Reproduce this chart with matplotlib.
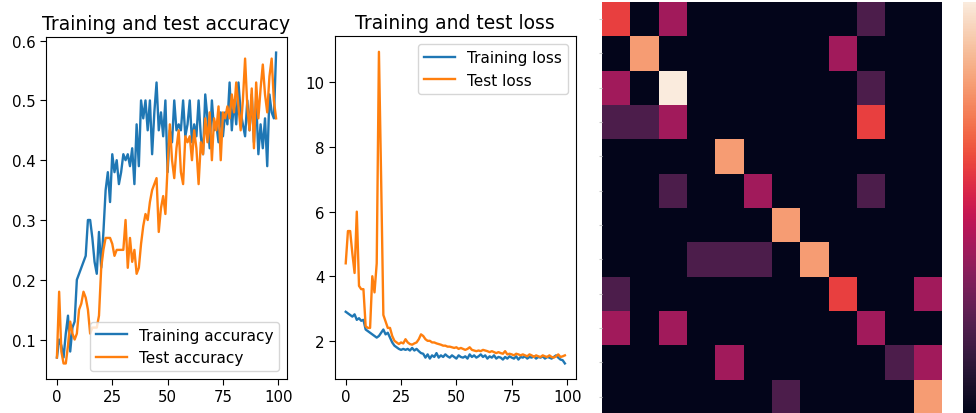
import matplotlib
matplotlib.use("Agg")
import matplotlib.pyplot as plt
import numpy as np
import seaborn as sns

epochs = np.arange(100)

train_acc = [0.07, 0.10, 0.09, 0.07, 0.11, 0.14, 0.08, 0.12, 0.13, 0.20,
             0.21, 0.22, 0.23, 0.24, 0.30, 0.30, 0.27, 0.23, 0.21, 0.28,
             0.22, 0.28, 0.35, 0.38, 0.33, 0.41, 0.38, 0.40, 0.36, 0.38,
             0.41, 0.40, 0.41, 0.39, 0.42, 0.36, 0.46, 0.39, 0.50, 0.47,
             0.50, 0.45, 0.50, 0.41, 0.48, 0.53, 0.45, 0.48, 0.44, 0.50,
             0.38, 0.45, 0.43, 0.50, 0.45, 0.46, 0.45, 0.50, 0.44, 0.46,
             0.50, 0.43, 0.46, 0.44, 0.50, 0.44, 0.41, 0.51, 0.47, 0.42,
             0.50, 0.45, 0.46, 0.43, 0.48, 0.44, 0.48, 0.46, 0.53, 0.45,
             0.50, 0.46, 0.53, 0.48, 0.46, 0.44, 0.50, 0.45, 0.51, 0.43,
             0.50, 0.41, 0.46, 0.42, 0.47, 0.39, 0.51, 0.48, 0.47, 0.58]

test_acc = [0.07, 0.18, 0.08, 0.06, 0.06, 0.09, 0.13, 0.11, 0.10, 0.11,
            0.15, 0.16, 0.18, 0.17, 0.15, 0.11, 0.12, 0.12, 0.12, 0.14,
            0.22, 0.25, 0.27, 0.27, 0.27, 0.26, 0.24, 0.25, 0.25, 0.25,
            0.25, 0.30, 0.22, 0.27, 0.23, 0.25, 0.21, 0.22, 0.26, 0.29,
            0.31, 0.30, 0.33, 0.35, 0.36, 0.37, 0.28, 0.32, 0.34, 0.31,
            0.39, 0.46, 0.40, 0.37, 0.42, 0.45, 0.38, 0.36, 0.44, 0.43,
            0.44, 0.40, 0.45, 0.42, 0.36, 0.43, 0.41, 0.47, 0.43, 0.48,
            0.40, 0.47, 0.45, 0.49, 0.40, 0.48, 0.47, 0.49, 0.47, 0.51,
            0.48, 0.53, 0.49, 0.45, 0.50, 0.57, 0.49, 0.45, 0.52, 0.42,
            0.53, 0.47, 0.52, 0.56, 0.51, 0.48, 0.54, 0.57, 0.50, 0.47]

train_loss = [2.90, 2.85, 2.80, 2.75, 2.82, 2.65, 2.70, 2.62, 2.65, 2.35,
              2.30, 2.25, 2.20, 2.15, 2.10, 2.15, 2.25, 2.35, 2.20, 2.25,
              2.10, 1.95, 1.85, 1.80, 1.75, 1.72, 1.75, 1.72, 1.75, 1.70,
              1.78, 1.70, 1.75, 1.68, 1.62, 1.60, 1.48, 1.58, 1.45, 1.55,
              1.50, 1.62, 1.48, 1.55, 1.50, 1.58, 1.52, 1.48, 1.55, 1.50,
              1.45, 1.55, 1.50, 1.48, 1.52, 1.45, 1.58, 1.50, 1.55, 1.48,
              1.52, 1.58, 1.50, 1.55, 1.45, 1.52, 1.48, 1.55, 1.45, 1.50,
              1.48, 1.42, 1.50, 1.45, 1.52, 1.48, 1.45, 1.52, 1.42, 1.50,
              1.48, 1.52, 1.45, 1.50, 1.48, 1.52, 1.45, 1.50, 1.48, 1.52,
              1.45, 1.50, 1.48, 1.45, 1.50, 1.55, 1.48, 1.42, 1.40, 1.30]

test_loss = [4.40, 5.40, 5.40, 4.70, 4.10, 6.00, 3.70, 3.60, 3.60, 2.45,
             2.40, 2.40, 4.00, 3.50, 4.40, 10.95, 7.00, 2.80, 2.60, 2.40,
             2.40, 2.15, 2.00, 1.95, 1.90, 1.95, 1.92, 2.05, 1.95, 1.90,
             1.88, 1.92, 1.95, 2.05, 2.20, 2.15, 2.05, 2.00, 2.00, 1.95,
             1.95, 1.92, 1.90, 1.88, 1.85, 1.85, 1.82, 1.82, 1.80, 1.78,
             1.80, 1.75, 1.78, 1.75, 1.72, 1.75, 1.80, 1.72, 1.70, 1.68,
             1.70, 1.68, 1.72, 1.70, 1.68, 1.65, 1.68, 1.65, 1.62, 1.65,
             1.62, 1.60, 1.68, 1.58, 1.60, 1.58, 1.55, 1.60, 1.58, 1.55,
             1.58, 1.55, 1.52, 1.58, 1.55, 1.50, 1.55, 1.52, 1.50, 1.55,
             1.52, 1.50, 1.55, 1.50, 1.48, 1.52, 1.58, 1.50, 1.52, 1.55]

# confusion matrix counts
conf = np.array([
    [3, 0, 2, 0, 0, 0, 0, 0, 0, 1, 0, 0],
    [0, 4, 0, 0, 0, 0, 0, 0, 2, 0, 0, 0],
    [2, 0, 5, 0, 0, 0, 0, 0, 0, 1, 0, 0],
    [1, 1, 2, 0, 0, 0, 0, 0, 0, 3, 0, 0],
    [0, 0, 0, 0, 4, 0, 0, 0, 0, 0, 0, 0],
    [0, 0, 1, 0, 0, 2, 0, 0, 0, 1, 0, 0],
    [0, 0, 0, 0, 0, 0, 4, 0, 0, 0, 0, 0],
    [0, 0, 0, 1, 1, 1, 0, 4, 0, 0, 0, 0],
    [1, 0, 0, 0, 0, 0, 0, 0, 3, 0, 0, 2],
    [2, 0, 2, 0, 0, 0, 0, 0, 0, 2, 0, 0],
    [0, 0, 0, 0, 2, 0, 0, 0, 0, 0, 1, 2],
    [0, 0, 0, 0, 0, 0, 1, 0, 0, 0, 0, 4],
])

xticks = [0, 25, 50, 75, 100]

plt.rcParams['font.size'] = 10.8
plt.rcParams['axes.titlesize'] = 13.5
plt.rcParams['legend.fontsize'] = 11
plt.rcParams['xtick.major.size'] = 4
plt.rcParams['ytick.major.size'] = 4

fig = plt.figure(figsize=(9.76, 4.14), dpi=100)

ax1 = fig.add_axes([0.0471, 0.0821, 0.247, 0.826])
ax1.plot(epochs, train_acc, label='Training accuracy', lw=1.7)
ax1.plot(epochs, test_acc, label='Test accuracy', lw=1.7)
ax1.set_title('Training and test accuracy')
ax1.set_xticks(xticks)
ax1.legend(loc='lower right')

ax2 = fig.add_axes([0.343, 0.0821, 0.247, 0.828])
ax2.plot(epochs, train_loss, label='Training loss', lw=1.7)
ax2.plot(epochs, test_loss, label='Test loss', lw=1.7)
ax2.set_title('Training and test loss')
ax2.set_xticks(xticks)
ax2.legend(loc='upper right')

ax3 = fig.add_axes([0.617, -0.002, 0.348, 0.995])
cax = fig.add_axes([0.9867, -0.002, 0.03, 0.995])
sns.heatmap(conf, ax=ax3, cbar_ax=cax, cmap='rocket', vmin=0, vmax=5,
            xticklabels=False, yticklabels=False)
ax3.set_yticks(np.arange(12) + 0.5)
ax3.set_yticklabels([])
ax3.tick_params(axis='y', length=2, color='#cccccc')
cax.tick_params(labelright=False, length=0)

fig.savefig('out.png', dpi=100)
